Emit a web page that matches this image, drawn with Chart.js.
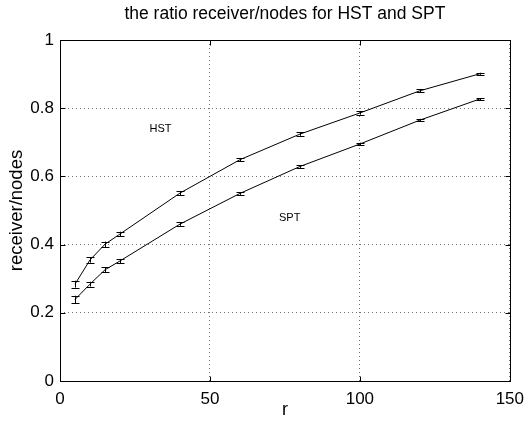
<!DOCTYPE html>
<html>
<head>
<meta charset="utf-8">
<script src="https://cdn.jsdelivr.net/npm/chart.js@4/dist/chart.umd.min.js"></script>
<style>
  html, body { margin: 0; padding: 0; background: #fff; }
  #wrap { width: 532px; height: 423px; }
</style>
</head>
<body>
<div id="wrap"><canvas id="c" width="532" height="423"></canvas></div>
<script>
// values
const rValues = [5, 10, 15, 20, 40, 60, 80, 100, 120, 140];
const hstRatio = [0.284, 0.355, 0.401, 0.431, 0.551, 0.649, 0.724, 0.786, 0.851, 0.901];
const hstErr   = [0.010, 0.008, 0.008, 0.007, 0.006, 0.005, 0.005, 0.005, 0.004, 0.003];
const sptRatio = [0.239, 0.284, 0.326, 0.352, 0.460, 0.550, 0.629, 0.695, 0.765, 0.827];
const sptErr   = [0.011, 0.007, 0.007, 0.006, 0.005, 0.004, 0.004, 0.004, 0.004, 0.003];

const xTicks = [0, 50, 100, 150];
const yTicks = [0, 0.2, 0.4, 0.6, 0.8, 1];
const yTickLabels = ["0", "0.2", "0.4", "0.6", "0.8", "1"];

const titleText = "the ratio receiver/nodes for HST and SPT";

// text labels placed in data coordinates
const notes = [
  { text: "HST", x: 33.5, y: 0.74 },
  { text: "SPT", x: 76.6, y: 0.478 },
];

const FONT = "'Liberation Sans', Arial, Helvetica, sans-serif";

const toPoints = (xs, ys) => xs.map((x, i) => ({ x, y: ys[i] }));
const errors = [hstErr, sptErr];

// error bars, inward ticks, frame, title, annotations
const matlabish = {
  id: "matlabish",
  afterDatasetsDraw(chart) {
    const { ctx, scales: { x, y } } = chart;
    ctx.save();
    ctx.strokeStyle = "#000";
    ctx.lineWidth = 1;
    chart.data.datasets.forEach((ds, di) => {
      ds.data.forEach((p, i) => {
        const e = errors[di][i];
        const px = Math.round(x.getPixelForValue(p.x)) + 0.5;
        const y1 = y.getPixelForValue(p.y + e);
        const y2 = y.getPixelForValue(p.y - e);
        ctx.beginPath();
        ctx.moveTo(px, y1); ctx.lineTo(px, y2);
        ctx.moveTo(px - 4, Math.round(y1) + 0.5); ctx.lineTo(px + 4, Math.round(y1) + 0.5);
        ctx.moveTo(px - 4, Math.round(y2) + 0.5); ctx.lineTo(px + 4, Math.round(y2) + 0.5);
        ctx.stroke();
      });
    });
    ctx.restore();
  },
  afterDraw(chart) {
    const { ctx, chartArea: a, scales: { x, y } } = chart;
    ctx.save();
    ctx.strokeStyle = "#000";
    ctx.lineWidth = 1;
    const L = Math.round(a.left) + 0.5, R = Math.round(a.right) + 0.5;
    const T = Math.round(a.top) + 0.5, B = Math.round(a.bottom) + 0.5;
    ctx.strokeRect(L, T, R - L, B - T);
    ctx.beginPath();
    xTicks.forEach(v => {
      const px = Math.round(x.getPixelForValue(v)) + 0.5;
      ctx.moveTo(px, B); ctx.lineTo(px, B - 5);
      ctx.moveTo(px, T); ctx.lineTo(px, T + 5);
    });
    yTicks.forEach(v => {
      const py = Math.round(y.getPixelForValue(v)) + 0.5;
      ctx.moveTo(L, py); ctx.lineTo(L + 5, py);
      ctx.moveTo(R, py); ctx.lineTo(R - 5, py);
    });
    ctx.stroke();

    ctx.fillStyle = "#000";
    ctx.textAlign = "center";
    ctx.textBaseline = "middle";
    ctx.font = "17.5px " + FONT;
    ctx.fillText(titleText, (a.left + a.right) / 2, 14);

    ctx.font = "11px " + FONT;
    notes.forEach(n => ctx.fillText(n.text, x.getPixelForValue(n.x), y.getPixelForValue(n.y)));
    ctx.restore();
  }
};

new Chart(document.getElementById("c"), {
  type: "line",
  data: {
    datasets: [
      { label: "HST", data: toPoints(rValues, hstRatio) },
      { label: "SPT", data: toPoints(rValues, sptRatio) },
    ].map(d => ({ ...d, borderColor: "#000", borderWidth: 1, pointRadius: 0, tension: 0, fill: false }))
  },
  options: {
    responsive: false,
    animation: false,
    layout: { padding: { left: 0, right: 17, top: 40, bottom: 0 } },
    plugins: {
      legend: { display: false },
      tooltip: { enabled: false },
      title: { display: false }
    },
    scales: {
      x: {
        type: "linear", min: 0, max: 150,
        afterBuildTicks: s => { s.ticks = xTicks.map(v => ({ value: v })); },
        afterFit: s => { s.height = 42; },
        grid: { color: "rgba(0,0,0,0.55)", lineWidth: 1, drawTicks: false },
        border: { display: false, dash: [1, 3] },
        ticks: { color: "#000", font: { family: FONT, size: 17 }, padding: 8, maxRotation: 0 },
        title: { display: true, text: "r", color: "#000", font: { family: FONT, size: 18 }, padding: { top: 0, bottom: 2 } }
      },
      y: {
        type: "linear", min: 0, max: 1,
        afterBuildTicks: s => { s.ticks = yTicks.map(v => ({ value: v })); },
        afterFit: s => { s.width = 60; },
        grid: { color: "rgba(0,0,0,0.55)", lineWidth: 1, drawTicks: false },
        border: { display: false, dash: [1, 3] },
        ticks: {
          color: "#000", font: { family: FONT, size: 17 }, padding: 6,
          callback: (v, i) => yTickLabels[i]
        },
        title: { display: true, text: "receiver/nodes", color: "#000", font: { family: FONT, size: 18.5 }, padding: { top: 6, bottom: 0 } }
      }
    }
  },
  plugins: [matlabish]
});
</script>
</body>
</html>
